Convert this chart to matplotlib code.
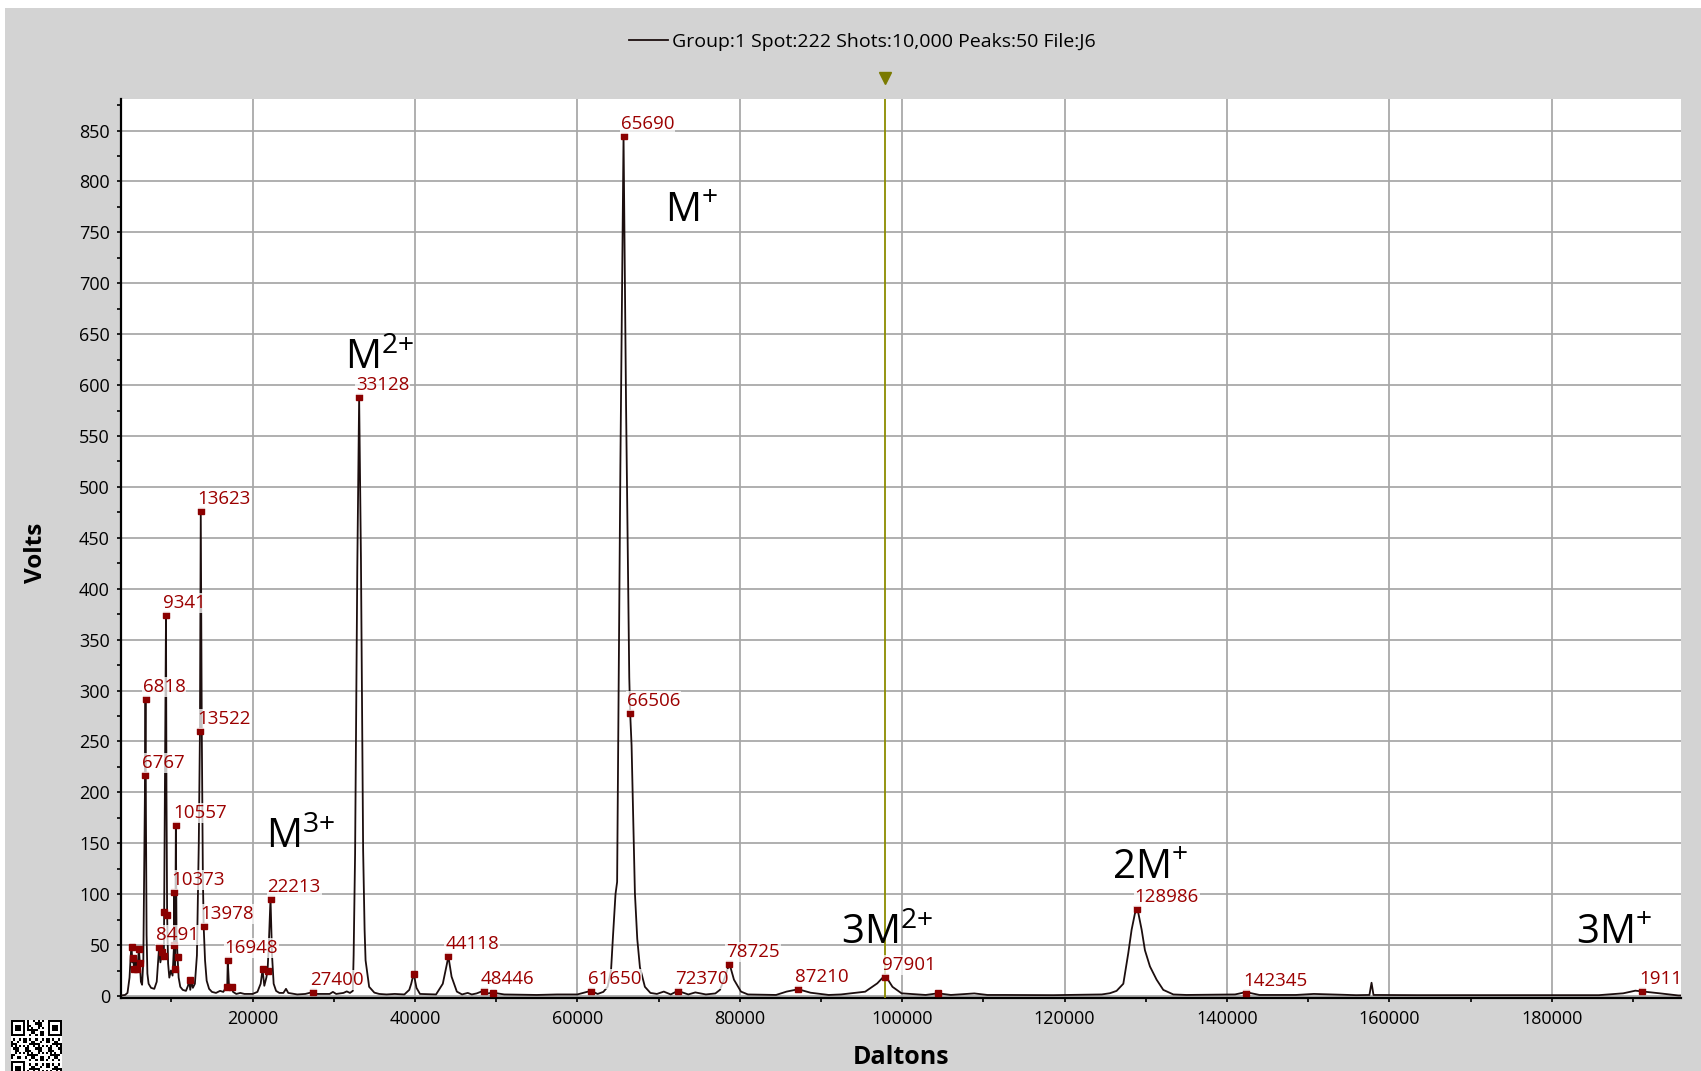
import numpy as np
import matplotlib
matplotlib.use('Agg')
import matplotlib.pyplot as plt
from matplotlib.patches import Rectangle
from matplotlib.ticker import MultipleLocator

W, H = 1701, 1071
labelsize = 13

plt.rc('font', family=['Open Sans', 'DejaVu Sans'])
plt.rc('mathtext', fontset='custom', rm='Open Sans', it='Open Sans:italic', bf='Open Sans:bold')
plt.rc('xtick', labelsize=labelsize)
plt.rc('ytick', labelsize=labelsize)

# spectrum trace (Daltons, Volts)
trace_da = [3800, 4300, 4600, 4850, 5000, 5100, 5200, 5300, 5420, 5600, 5700, 5830, 6000, 6120,
            6250, 6400, 6550, 6680, 6767, 6818, 6870, 6950, 7050, 7200, 7500, 7900, 8200, 8491,
            8650, 8870, 9000, 9080, 9115, 9250, 9341, 9400, 9480, 9600, 9750, 9950, 10150, 10330,
            10373, 10420, 10470, 10557, 10640, 10760, 10900, 11100, 11400, 11800, 12050, 12200,
            12330, 12480, 12650, 12900, 13150, 13380, 13522, 13623, 13750, 13880, 13978, 14150,
            14350, 14650, 15000, 15500, 16000, 16400, 16700, 16880, 16948, 17100, 17410, 17600,
            18000, 18500, 19000, 20000, 20600, 21000, 21230, 21450, 21700, 21850, 22000, 22213,
            22400, 22600, 22900, 23300, 23800, 24120, 24400, 25500, 26500, 27000, 27400, 27800,
            29500, 29900, 30300, 31200, 31600, 32000, 32350, 32450, 32630, 32900, 33128, 33350,
            33620, 33800, 33920, 34360, 35000, 35600, 36500, 37500, 38700, 39300, 39540, 39845,
            40190, 40620, 42600, 43430, 43900, 44118, 44510, 45160, 45800, 46500, 47000, 47600,
            48446, 49000, 49560, 51000, 55000, 57500, 60000, 61650, 62500, 63200, 63730, 64150,
            64400, 64700, 64900, 65300, 65690, 66000, 66395, 66506, 66680, 66890, 67090, 67380,
            67710, 68320, 69000, 69800, 70650, 71500, 72370, 73670, 74530, 75830, 77000, 77560,
            78210, 78725, 79290, 80150, 81010, 84470, 85770, 87210, 88720, 90960, 92460, 95450,
            96940, 97901, 98810, 99930, 102900, 104410, 106000, 108890, 110500, 112620, 118600,
            124580, 125590, 126410, 127240, 127850, 128260, 128670, 128986, 129500, 129900,
            130520, 131340, 132160, 133400, 135000, 141000, 142345, 144000, 148500, 150700,
            155900, 157550, 157810, 158050, 163400, 185800, 188800, 190300, 191127, 193300,
            195600, 196000]
trace_v = [0.5, 1, 3, 18, 40, 48, 33, 37, 26, 34, 30, 27, 46, 33,
           14, 11, 35, 150, 217, 292, 180, 60, 22, 12, 8, 7, 14, 48,
           33, 43, 36, 39, 82, 250, 374, 200, 80, 32, 18, 25, 20, 50,
           102, 35, 26, 168, 60, 39, 18, 9, 6, 5, 10, 16,
           6, 15, 8, 12, 40, 150, 260, 476, 260, 120, 69, 35,
           15, 7, 4, 3, 5, 4, 8, 9, 35, 10, 9, 4,
           2, 3, 2, 2, 4, 12, 26, 10, 18, 25, 50, 96,
           40, 12, 5, 3, 3, 7, 3, 1.5, 2, 3, 4, 2,
           2, 4, 2, 3, 4.5, 3, 5, 40, 140, 420, 588, 430,
           143, 65, 35, 9, 3.3, 2, 1.5, 2, 1.5, 6, 12, 22,
           8, 2, 1.5, 12, 30, 39, 19, 4.3, 1.5, 3, 1.5, 2.5,
           5.2, 2.5, 3.3, 1.5, 1, 1.5, 1.5, 5, 2, 4, 9, 25,
           60, 100, 112, 520, 845, 580, 313, 278, 246, 173, 101, 56,
           28, 9, 3, 2, 4.3, 1.5, 5, 1.5, 3.5, 1.5, 2.5, 6,
           19, 32, 16, 4.3, 1.5, 1, 4.3, 6.6, 3.2, 1, 1.5, 4.2,
           12.4, 20.5, 9, 2.6, 1, 2.6, 1, 2.5, 1, 1, 0.8,
           1.5, 2.7, 5, 12, 42, 65, 81, 85.5, 65, 45,
           29, 16, 6, 1.5, 1, 1.5, 3.8, 1, 1, 2,
           0.8, 1, 13, 1, 0.8, 0.8, 2.6, 5.2, 4.5, 2.6,
           0.5, 0.5]

# picked peaks (markers) and their labels
peak_da = [5100, 5300, 5420, 5830, 6000, 6120, 6767, 6818, 8491, 8870, 9080, 9115, 9341, 9480,
           10330, 10373, 10470, 10557, 10760, 12280, 13522, 13623, 13978, 16880, 16948, 17410,
           21230, 21850, 22213, 27400, 33128, 39845, 44118, 48446, 49560, 61650, 65690, 66506,
           72370, 78725, 87210, 97901, 104410, 128986, 142345, 191127]
peak_v = [48, 37, 26.5, 26.5, 46, 32.7, 217, 292, 48, 43.5, 39.6, 82, 374, 80,
          50, 102, 26.5, 168, 38.6, 15.7, 260, 476, 69, 9, 35, 9,
          26.5, 25, 95.6, 3.6, 588, 21.6, 39, 5.2, 3.3, 4.9, 845, 278,
          4.9, 31.4, 6.6, 19, 2.6, 85.5, 2.6, 4.9]
peak_lbl = ['', '', '', '', '', '', '6767', '6818', '8491', '', '', '', '9341', '',
            '', '10373', '', '10557', '', '', '13522', '13623', '13978', '', '16948', '',
            '', '', '22213', '27400', '33128', '', '44118', '48446', '', '61650', '65690', '66506',
            '72370', '78725', '87210', '97901', '', '128986', '142345', '191127']

# charge-state annotations
ion_base = ['M', 'M', 'M', '3M', '2M', '3M']
ion_sup = ['+', '2+', '3+', '2+', '+', '+']
ion_da = [70790, 31370, 21620, 92430, 125830, 182990]
ion_v = [760, 616, 145, 51, 115, 51]

legend_text = 'Group:1 Spot:222 Shots:10,000 Peaks:50 File:J6'
cursor_da = 97901

fig = plt.figure(figsize=(W / 100, H / 100), dpi=100)
fig.patch.set_facecolor('white')
fig.add_artist(Rectangle((5 / W, 0), 1, (H - 7.5) / H, transform=fig.transFigure,
                         facecolor='#d3d3d3', edgecolor='none', zorder=-10))

ax = fig.add_axes([121 / W, 73.5 / H, (1680.5 - 121) / W, (997.5 - 99) / H])
ax.set_facecolor('white')

line, = ax.plot(trace_da, trace_v, color='#1c0e0e', lw=1.3, zorder=3)
ax.plot(peak_da, peak_v, 's', color='#8b0000', ms=4.3, zorder=4)

for da, v, lbl in zip(peak_da, peak_v, peak_lbl):
    if lbl:
        ax.annotate(lbl, (da, v), xytext=(-3, 7), textcoords='offset pixels',
                    ha='left', va='baseline', color='#9b0000', fontsize=13.5, zorder=5,
                    bbox=dict(boxstyle='square,pad=0.05', fc='white', ec='none', alpha=0.75),
                    clip_on=True)

for base, sup, da, v in zip(ion_base, ion_sup, ion_da, ion_v):
    ax.text(da, v, base + r'$^{\text{' + sup + '}}$', fontsize=29, ha='left',
            va='baseline', color='black', zorder=6)

ax.axvline(cursor_da, color='#8c8c00', lw=1.3, zorder=3.5)
ax.plot([cursor_da], [902], marker='v', color='#7a7a00', ms=9, clip_on=False)

ax.set_xlim(3800, 195860)
ax.set_ylim(-1.5, 881)
ax.xaxis.set_major_locator(MultipleLocator(20000))
ax.xaxis.set_minor_locator(MultipleLocator(10000))
ax.yaxis.set_major_locator(MultipleLocator(50))
ax.yaxis.set_minor_locator(MultipleLocator(25))
ax.grid(True, which='major', color='#a6a6a6', lw=1.25, zorder=0)
ax.set_axisbelow(True)

for s in ['top', 'right']:
    ax.spines[s].set_visible(False)
for s in ['left', 'bottom']:
    ax.spines[s].set_linewidth(1.6)
    ax.spines[s].set_color('black')
ax.tick_params(which='both', direction='out', length=3, width=1.2, color='black')
ax.tick_params(axis='y', pad=5)
ax.tick_params(axis='x', pad=6)

fig.text(900.7 / W, 7 / H, 'Daltons', fontsize=18, fontweight='bold', ha='center', va='baseline')
fig.text(35.8 / W, 518 / H, 'Volts', fontsize=17.5, fontweight='bold', ha='center', va='center',
         rotation=90)

fig.legend([line], [legend_text], loc='center', bbox_to_anchor=(0.507, 0.961), frameon=False,
           fontsize=14, handlelength=2.0, handletextpad=0.25)

# small QR-like badge in the corner
n = 25
qr = np.zeros((n, n))
for (r, c) in [(0, 0), (0, n - 7), (n - 7, 0)]:
    qr[r:r + 7, c:c + 7] = 1
    qr[r + 1:r + 6, c + 1:c + 6] = 0
    qr[r + 2:r + 5, c + 2:c + 5] = 1
for i in range(n):
    for j in range(n):
        infinder = (i < 8 and j < 8) or (i < 8 and j >= n - 8) or (i >= n - 8 and j < 8)
        if not infinder:
            qr[i, j] = 1 if (i * 31 + j * 17 + i * j * 7) % 11 < 5 else 0
qax = fig.add_axes([11 / W, -6 / H, 51 / W, 57 / H])
qax.imshow(qr, cmap='gray_r', interpolation='nearest', aspect='auto')
qax.axis('off')

fig.savefig('out.png', dpi=100, facecolor=fig.get_facecolor())
